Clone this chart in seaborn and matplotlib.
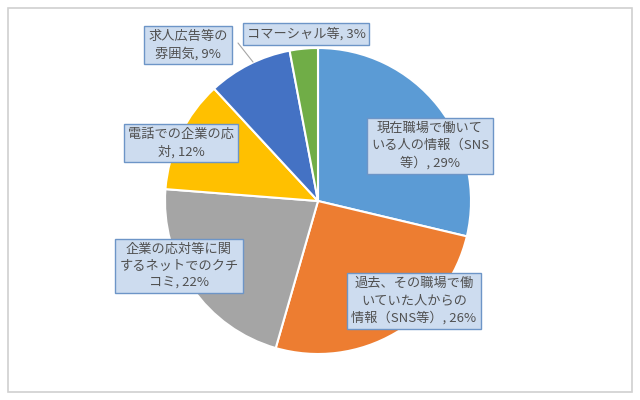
import matplotlib
matplotlib.use("Agg")
import matplotlib.pyplot as plt
import seaborn as sns

# slice data, clockwise from 12 o'clock
labels = [
    "現在職場で働いて\nいる人の情報（SNS\n等）, 29%",
    "過去、その職場で働\nいていた人からの\n情報（SNS等）, 26%",
    "企業の応対等に関\nするネットでのクチ\nコミ, 22%",
    "電話での企業の応\n対, 12%",
    "求人広告等の\n雰囲気, 9%",
    "コマーシャル等, 3%",
]
shares = [29, 26, 22, 12, 9, 3]
colors = ["#5B9BD5", "#ED7D31", "#A5A5A5", "#FFC000", "#4472C4", "#70AD47"]

# label box centres in pixels (x, y from top)
label_pos = [(430, 146), (414, 301), (179, 266), (181, 143), (188, 45), (306, 34)]

sns.set_style("white")
plt.rcParams['font.family'] = ['Noto Sans CJK JP', 'DejaVu Sans']

W, H = 640, 400
fig = plt.figure(figsize=(6.4, 4.0), dpi=100)
fig.patch.set_facecolor("white")
ax = fig.add_axes([0, 0, 1, 1])

# outer chart frame
frame = plt.Rectangle((8, 8), W - 16, H - 16, fill=False, ec="#d0d0d0", lw=1.2)
ax.add_patch(frame)

cx, cy, r = 318, H - 201, 153
ax.pie(shares, colors=colors, startangle=90, counterclock=False,
       center=(cx, cy), radius=r, frame=True,
       wedgeprops=dict(edgecolor="white", linewidth=1.5))
ax.set_xlim(0, W)
ax.set_ylim(0, H)
ax.set_aspect("equal")
ax.axis("off")

# leader line for the 9% label
ax.plot([238, 253], [H - 43, H - 62], color="#a6a6a6", lw=0.8)

for lab, (px, py) in zip(labels, label_pos):
    ax.text(px, H - py, lab, ha="center", va="center", fontsize=9.5,
            color="#505050", linespacing=1.4,
            bbox=dict(boxstyle="square,pad=0.3", fc="#cddcef", ec="#6d95c7", lw=1.0))

fig.savefig("out.png", dpi=100, facecolor="white")
